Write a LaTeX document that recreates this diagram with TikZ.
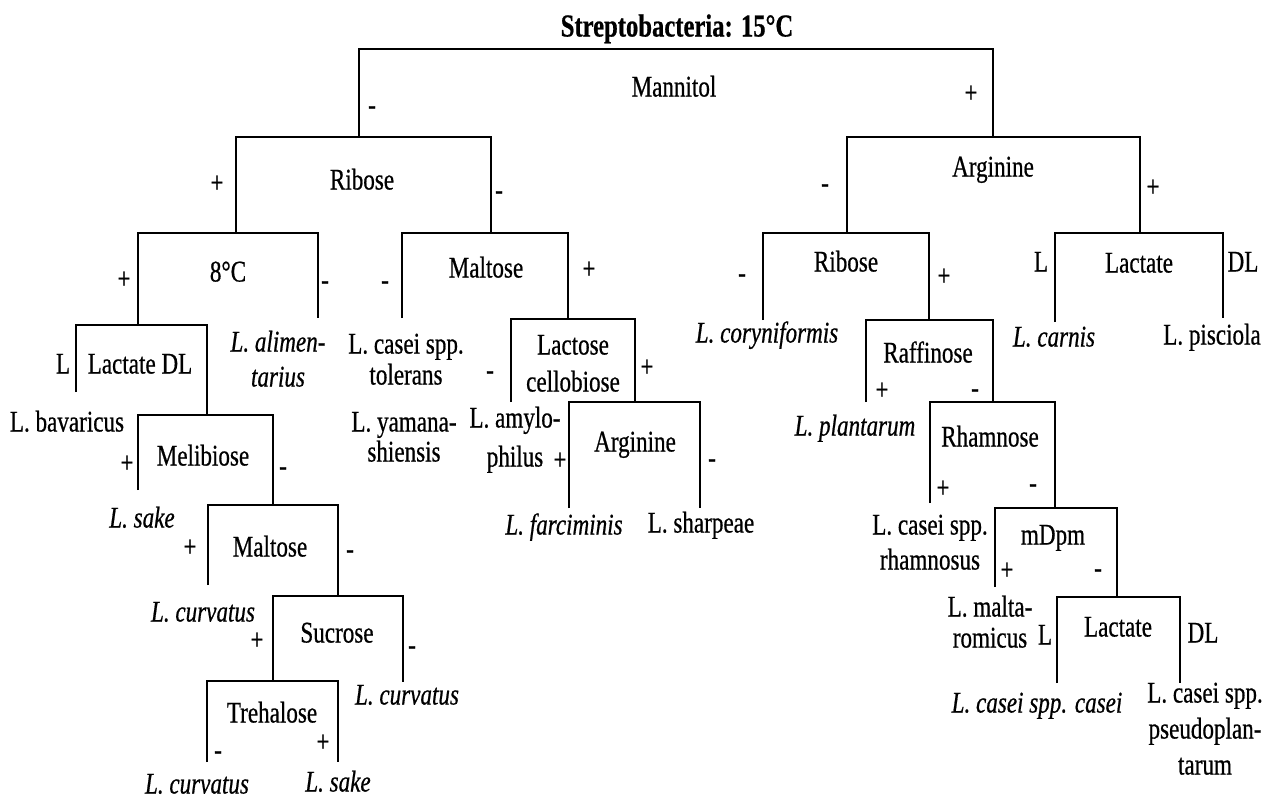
\documentclass[tikz,border=0pt]{standalone}
\usepackage{fontspec}
\setmainfont{Liberation Serif}[FakeStretch=0.77,FakeBold=0.6]
\newcommand\mybrk[6]{%
  \coordinate (#1-tl) at (#2,#4);
  \coordinate (#1-tr) at (#3,#4);
  \coordinate (#1-l) at (#2,#5);
  \coordinate (#1-r) at (#3,#6);
  \draw[ln] (#1-l) -- (#1-tl) -- (#1-tr) -- (#1-r);}
\begin{document}
\begin{tikzpicture}[x=1pt,y=-1pt,
  font=\fontsize{30}{33}\selectfont,
  ln/.style={line width=2.4pt},
  lab/.style={inner sep=0pt, text height=20pt, text depth=1pt, align=center},
  sp/.style={lab, font=\fontsize{30}{33}\selectfont\itshape},
  sg/.style={lab}]
\fill[white] (0,0) rectangle (1273,798);
\useasboundingbox (0,0) rectangle (1273,798);
% brackets
\mybrk{root}{359}{993}{49}{137}{137}
\mybrk{ribL}{236}{491}{137}{233}{233}
\mybrk{arg}{847}{1140}{137}{233}{233}
\mybrk{c8}{138}{318}{233}{325}{318}
\mybrk{malL}{402}{568}{233}{318}{319}
\mybrk{ribR}{763}{929}{233}{320}{320}
\mybrk{lacR}{1055}{1223}{233}{322}{318}
\mybrk{lacDL}{76}{207}{325}{392}{415}
\mybrk{mel}{138}{273}{415}{490}{505}
\mybrk{mal2}{208}{338}{505}{585}{596}
\mybrk{suc}{273}{403}{596}{681}{682}
\mybrk{tre}{207}{338}{681}{762}{762}
\mybrk{lcb}{511}{635}{319}{402}{402}
\mybrk{arg2}{569}{700}{402}{508}{508}
\mybrk{raf}{866}{993}{320}{402}{402}
\mybrk{rha}{930}{1055}{402}{503}{508}
\mybrk{mdpm}{995}{1117}{508}{587}{597}
\mybrk{lac2}{1057}{1180}{597}{683}{683}
% title
\node[lab, font=\bfseries\fontsize{32}{34}\selectfont] (title) at (677,27) {Streptobacteria: 15°C};
% level 1
\node[lab] (mannitol) at (674,87) {Mannitol};
\node[sg] (s1) at (372,105) {-};
\node[sg] (s2) at (971,93) {+};
% level 2
\node[lab] (riboseL) at (362,180) {Ribose};
\node[sg] (s3) at (217,183) {+};
\node[sg] (s4) at (499,190) {-};
\node[lab] (arginine) at (993,167) {Arginine};
\node[sg] (s5) at (825,183) {-};
\node[sg] (s6) at (1153,187) {+};
% level 3
\node[lab] (c8t) at (228,272) {8°C};
\node[sg] (s7) at (124,279) {+};
\node[sg] (s8) at (325,280) {-};
\node[lab] (maltoseL) at (486,268) {Maltose};
\node[sg] (s9) at (385,280) {-};
\node[sg] (s10) at (589,269) {+};
\node[lab] (riboseR) at (846,262) {Ribose};
\node[sg] (s11) at (742,273) {-};
\node[sg] (s12) at (944,276) {+};
\node[lab] (lactateR) at (1139,263) {Lactate};
\node[sg] (s13) at (1041,262) {L};
\node[sg] (s14) at (1243,262) {DL};
% leaves level 3 (multi-line nodes are placed at their last line)
\node[sp, font=\fontsize{30}{35}\selectfont\itshape] (alim) at (278,377) {L. alimen-\\tarius};
\node[lab, font=\fontsize{30}{31}\selectfont] (tol) at (406,375) {L. casei spp.\\tolerans};
\node[lab, font=\fontsize{30}{30}\selectfont] (yam) at (404,452) {L. yamana-\\shiensis};
\node[sp] (cory) at (767,333) {L. coryniformis};
\node[sp] (carnis) at (1054,337) {L. carnis};
\node[lab] (pisc) at (1212,335) {L. pisciola};
% left branch
\node[sg] (s15) at (63,364) {L};
\node[lab] (lacDLt) at (140,364) {Lactate DL};
\node[lab] (bav) at (67,422) {L. bavaricus};
\node[lab] (melt) at (203,456) {Melibiose};
\node[sg] (s16) at (127,463) {+};
\node[sg] (s17) at (283,466) {-};
\node[sp] (sake1) at (142,518) {L. sake};
\node[lab] (mal2t) at (270,547) {Maltose};
\node[sg] (s18) at (190,547) {+};
\node[sg] (s19) at (350,549) {-};
\node[sp] (curv1) at (203,612) {L. curvatus};
\node[lab] (suct) at (337,633) {Sucrose};
\node[sg] (s20) at (257,640) {+};
\node[sg] (s21) at (412,645) {-};
\node[sp] (curv2) at (407,695) {L. curvatus};
\node[lab] (tret) at (272,713) {Trehalose};
\node[sg] (s22) at (218,750) {-};
\node[sg] (s23) at (323,742) {+};
\node[sp] (curv3) at (197,784) {L. curvatus};
\node[sp] (sake2) at (338,782) {L. sake};
% middle branch
\node[lab, font=\fontsize{30}{37}\selectfont] (lcbt) at (573,382) {Lactose\\cellobiose};
\node[sg] (s24) at (490,370) {-};
\node[sg] (s25) at (647,367) {+};
\node[lab, font=\fontsize{30}{39}\selectfont] (amy) at (515,457) {L. amylo-\\philus};
\node[lab] (arg2t) at (635,442) {Arginine};
\node[sg] (s26) at (560,460) {+};
\node[sg] (s27) at (712,458) {-};
\node[sp] (farc) at (564,525) {L. farciminis};
\node[lab] (sharp) at (701,523) {L. sharpeae};
% right branch
\node[lab] (raft) at (928,353) {Raffinose};
\node[sg] (s28) at (882,390) {+};
\node[sg] (s29) at (975,388) {-};
\node[sp] (plant) at (855,426) {L. plantarum};
\node[lab] (rhat) at (990,437) {Rhamnose};
\node[sg] (s30) at (943,488) {+};
\node[sg] (s31) at (1033,483) {-};
\node[lab, font=\fontsize{30}{35}\selectfont] (rham) at (930,560) {L. casei spp.\\rhamnosus};
\node[lab] (mdpmt) at (1053,535) {mDpm};
\node[sg] (s32) at (1007,570) {+};
\node[sg] (s33) at (1098,568) {-};
\node[lab, font=\fontsize{30}{31}\selectfont] (malta) at (990,638) {L. malta-\\romicus};
\node[lab] (lac2t) at (1118,627) {Lactate};
\node[sg] (s34) at (1045,635) {L};
\node[sg] (s35) at (1203,633) {DL};
\node[sp] (casei) at (1037,703) {L. casei spp. casei};
\node[lab, font=\fontsize{30}{36}\selectfont] (pseudo) at (1205,765) {L. casei spp.\\pseudoplan-\\tarum};
\end{tikzpicture}
\end{document}
